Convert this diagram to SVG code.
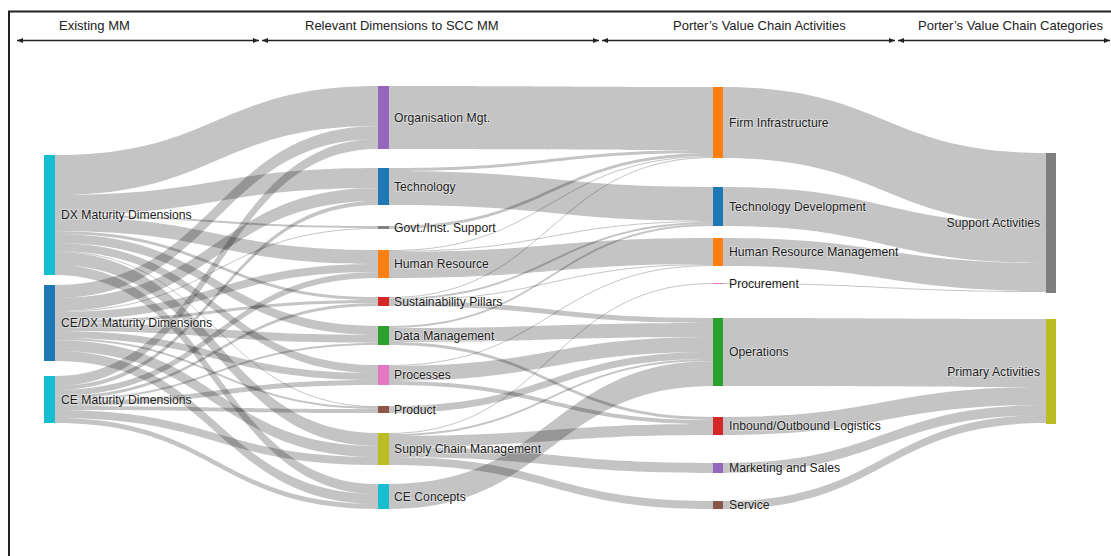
<svg xmlns="http://www.w3.org/2000/svg" width="1111" height="556" viewBox="0 0 1111 556">
<defs>
<style>
.lk{fill:#000;fill-opacity:0.23}
.lb{font-family:"Liberation Sans",Arial,sans-serif;font-size:12.2px;fill:#1a1a1a;stroke:#fff;stroke-width:1.5;stroke-opacity:0.5;paint-order:stroke}
.hd{font-family:"Liberation Sans",Arial,sans-serif;font-size:13px;fill:#222}
.ar{stroke:#222;stroke-width:1.5;fill:none;marker-start:url(#ah);marker-end:url(#ah)}
</style>
<marker id="ah" markerUnits="userSpaceOnUse" markerWidth="7" markerHeight="6" refX="6" refY="3" orient="auto-start-reverse">
<path d="M0,0.5 L6,3 L0,5.5 Z" fill="#222"/>
</marker>
</defs>
<rect width="1111" height="556" fill="#fff"/>
<path d="M9,556 V11.5 H1111" fill="none" stroke="#222" stroke-width="2"/>
<g id="headers">
<text class="hd" x="59" y="30">Existing MM</text>
<text class="hd" x="305" y="30">Relevant Dimensions to SCC MM</text>
<text class="hd" x="673" y="30">Porter’s Value Chain Activities</text>
<text class="hd" x="918" y="30">Porter’s Value Chain Categories</text>
<line class="ar" x1="17" y1="40.5" x2="259" y2="40.5"/>
<line class="ar" x1="262" y1="40.5" x2="599" y2="40.5"/>
<line class="ar" x1="602" y1="40.5" x2="895" y2="40.5"/>
<line class="ar" x1="898" y1="40.5" x2="1110" y2="40.5"/>
</g>
<g id="connectors">
<path class="lk" d="M55,155C216.5,155 216.5,86 378,86L378,126C216.5,126 216.5,195 55,195Z"/>
<path class="lk" d="M55,195C216.5,195 216.5,168 378,168L378,188C216.5,188 216.5,215 55,215Z"/>
<path class="lk" d="M55,215C216.5,215 216.5,226 378,226L378,228C216.5,228 216.5,217 55,217Z"/>
<path class="lk" d="M55,217C216.5,217 216.5,250 378,250L378,264C216.5,264 216.5,231 55,231Z"/>
<path class="lk" d="M55,231C216.5,231 216.5,297 378,297L378,300C216.5,300 216.5,234 55,234Z"/>
<path class="lk" d="M55,234C216.5,234 216.5,326 378,326L378,335C216.5,335 216.5,243 55,243Z"/>
<path class="lk" d="M55,243C216.5,243 216.5,365 378,365L378,373C216.5,373 216.5,251 55,251Z"/>
<path class="lk" d="M55,251C216.5,251 216.5,406 378,406L378,407C216.5,407 216.5,252 55,252Z"/>
<path class="lk" d="M55,252C216.5,252 216.5,433 378,433L378,446C216.5,446 216.5,265 55,265Z"/>
<path class="lk" d="M55,265C216.5,265 216.5,484 378,484L378,494C216.5,494 216.5,275 55,275Z"/>
<path class="lk" d="M55,285C216.5,285 216.5,126 378,126L378,139C216.5,139 216.5,298 55,298Z"/>
<path class="lk" d="M55,298C216.5,298 216.5,188 378,188L378,201C216.5,201 216.5,311 55,311Z"/>
<path class="lk" d="M55,311C216.5,311 216.5,228 378,228L378,229C216.5,229 216.5,312 55,312Z"/>
<path class="lk" d="M55,312C216.5,312 216.5,264 378,264L378,272C216.5,272 216.5,320 55,320Z"/>
<path class="lk" d="M55,320C216.5,320 216.5,300 378,300L378,303C216.5,303 216.5,323 55,323Z"/>
<path class="lk" d="M55,323C216.5,323 216.5,335 378,335L378,343C216.5,343 216.5,331 55,331Z"/>
<path class="lk" d="M55,331C216.5,331 216.5,373 378,373L378,380C216.5,380 216.5,338 55,338Z"/>
<path class="lk" d="M55,338C216.5,338 216.5,407 378,407L378,409C216.5,409 216.5,340 55,340Z"/>
<path class="lk" d="M55,340C216.5,340 216.5,446 378,446L378,457C216.5,457 216.5,351 55,351Z"/>
<path class="lk" d="M55,351C216.5,351 216.5,494 378,494L378,504C216.5,504 216.5,361 55,361Z"/>
<path class="lk" d="M55,376C216.5,376 216.5,139 378,139L378,149C216.5,149 216.5,386 55,386Z"/>
<path class="lk" d="M55,386C216.5,386 216.5,201 378,201L378,205C216.5,205 216.5,390 55,390Z"/>
<path class="lk" d="M55,390C216.5,390 216.5,272 378,272L378,278C216.5,278 216.5,396 55,396Z"/>
<path class="lk" d="M55,396C216.5,396 216.5,303 378,303L378,306C216.5,306 216.5,399 55,399Z"/>
<path class="lk" d="M55,399C216.5,399 216.5,343 378,343L378,345C216.5,345 216.5,401 55,401Z"/>
<path class="lk" d="M55,401C216.5,401 216.5,380 378,380L378,385C216.5,385 216.5,406 55,406Z"/>
<path class="lk" d="M55,406C216.5,406 216.5,409 378,409L378,413C216.5,413 216.5,410 55,410Z"/>
<path class="lk" d="M55,410C216.5,410 216.5,457 378,457L378,465C216.5,465 216.5,418 55,418Z"/>
<path class="lk" d="M55,418C216.5,418 216.5,504 378,504L378,509C216.5,509 216.5,423 55,423Z"/>
<path class="lk" d="M389,86C551,86 551,87 713,87L713,150C551,150 551,149 389,149Z"/>
<path class="lk" d="M389,168C551,168 551,150 713,150L713,153C551,153 551,171 389,171Z"/>
<path class="lk" d="M389,171C551,171 551,187 713,187L713,221C551,221 551,205 389,205Z"/>
<path class="lk" d="M389,226C551,226 551,153 713,153L713,156C551,156 551,229 389,229Z"/>
<path class="lk" d="M389,250C551,250 551,156 713,156L713,157C551,157 551,251 389,251Z"/>
<path class="lk" d="M389,251C551,251 551,221 713,221L713,222C551,222 551,252 389,252Z"/>
<path class="lk" d="M389,252C551,252 551,238 713,238L713,264C551,264 551,278 389,278Z"/>
<path class="lk" d="M389,297C551,297 551,157 713,157L713,158C551,158 551,298 389,298Z"/>
<path class="lk" d="M389,298C551,298 551,222 713,222L713,224C551,224 551,300 389,300Z"/>
<path class="lk" d="M389,300C551,300 551,264 713,264L713,265C551,265 551,301 389,301Z"/>
<path class="lk" d="M389,301C551,301 551,318 713,318L713,323C551,323 551,306 389,306Z"/>
<path class="lk" d="M389,326C551,326 551,224 713,224L713,226C551,226 551,328 389,328Z"/>
<path class="lk" d="M389,328C551,328 551,323 713,323L713,337C551,337 551,342 389,342Z"/>
<path class="lk" d="M389,342C551,342 551,417 713,417L713,420C551,420 551,345 389,345Z"/>
<path class="lk" d="M389,365C551,365 551,265 713,265L713,266C551,266 551,366 389,366Z"/>
<path class="lk" d="M389,366C551,366 551,337 713,337L713,352C551,352 551,381 389,381Z"/>
<path class="lk" d="M389,381C551,381 551,420 713,420L713,424C551,424 551,385 389,385Z"/>
<path class="lk" d="M389,406C551,406 551,352 713,352L713,359C551,359 551,413 389,413Z"/>
<path class="lk" d="M389,433C551,433 551,283 713,283L713,284C551,284 551,434 389,434Z"/>
<path class="lk" d="M389,434C551,434 551,359 713,359L713,361C551,361 551,436 389,436Z"/>
<path class="lk" d="M389,436C551,436 551,424 713,424L713,435C551,435 551,447 389,447Z"/>
<path class="lk" d="M389,447C551,447 551,463 713,463L713,473C551,473 551,457 389,457Z"/>
<path class="lk" d="M389,457C551,457 551,501 713,501L713,509C551,509 551,465 389,465Z"/>
<path class="lk" d="M389,484C551,484 551,361 713,361L713,386C551,386 551,509 389,509Z"/>
<path class="lk" d="M723,87C884.5,87 884.5,153 1046,153L1046,224C884.5,224 884.5,158 723,158Z"/>
<path class="lk" d="M723,187C884.5,187 884.5,224 1046,224L1046,263C884.5,263 884.5,226 723,226Z"/>
<path class="lk" d="M723,238C884.5,238 884.5,263 1046,263L1046,291C884.5,291 884.5,266 723,266Z"/>
<path class="lk" d="M723,283C884.5,283 884.5,291 1046,291L1046,292C884.5,292 884.5,284 723,284Z"/>
<path class="lk" d="M723,318C884.5,318 884.5,319 1046,319L1046,387C884.5,387 884.5,386 723,386Z"/>
<path class="lk" d="M723,417C884.5,417 884.5,387 1046,387L1046,405C884.5,405 884.5,435 723,435Z"/>
<path class="lk" d="M723,463C884.5,463 884.5,405 1046,405L1046,415C884.5,415 884.5,473 723,473Z"/>
<path class="lk" d="M723,501C884.5,501 884.5,415 1046,415L1046,423C884.5,423 884.5,509 723,509Z"/>
</g>
<g id="n-dx"><rect x="44" y="155" width="11" height="120" fill="#17becf"/><text class="lb" x="61" y="215" dy="0.35em">DX Maturity Dimensions</text></g>
<g id="n-cedx"><rect x="44" y="285" width="11" height="76" fill="#1f77b4"/><text class="lb" x="61" y="323" dy="0.35em">CE/DX Maturity Dimensions</text></g>
<g id="n-ce"><rect x="44" y="376" width="11" height="47" fill="#17becf"/><text class="lb" x="61" y="399.5" dy="0.35em">CE Maturity Dimensions</text></g>
<g id="n-org"><rect x="378" y="86" width="11" height="63" fill="#9467bd"/><text class="lb" x="394" y="117.5" dy="0.35em">Organisation Mgt.</text></g>
<g id="n-tech"><rect x="378" y="168" width="11" height="37" fill="#1f77b4"/><text class="lb" x="394" y="186.5" dy="0.35em">Technology</text></g>
<g id="n-govt"><rect x="378" y="226" width="11" height="3" fill="#7f7f7f"/><text class="lb" x="394" y="227.5" dy="0.35em">Govt./Inst. Support</text></g>
<g id="n-hr"><rect x="378" y="250" width="11" height="28" fill="#ff7f0e"/><text class="lb" x="394" y="264" dy="0.35em">Human Resource</text></g>
<g id="n-sust"><rect x="378" y="297" width="11" height="9" fill="#d62728"/><text class="lb" x="394" y="301.5" dy="0.35em">Sustainability Pillars</text></g>
<g id="n-data"><rect x="378" y="326" width="11" height="19" fill="#2ca02c"/><text class="lb" x="394" y="335.5" dy="0.35em">Data Management</text></g>
<g id="n-proc"><rect x="378" y="365" width="11" height="20" fill="#e377c2"/><text class="lb" x="394" y="375" dy="0.35em">Processes</text></g>
<g id="n-product"><rect x="378" y="406" width="11" height="7" fill="#8c564b"/><text class="lb" x="394" y="409.5" dy="0.35em">Product</text></g>
<g id="n-scm"><rect x="378" y="433" width="11" height="32" fill="#bcbd22"/><text class="lb" x="394" y="449" dy="0.35em">Supply Chain Management</text></g>
<g id="n-cec"><rect x="378" y="484" width="11" height="25" fill="#17becf"/><text class="lb" x="394" y="496.5" dy="0.35em">CE Concepts</text></g>
<g id="n-firm"><rect x="713" y="87" width="10" height="71" fill="#ff7f0e"/><text class="lb" x="729" y="122.5" dy="0.35em">Firm Infrastructure</text></g>
<g id="n-techdev"><rect x="713" y="187" width="10" height="39" fill="#1f77b4"/><text class="lb" x="729" y="206.5" dy="0.35em">Technology Development</text></g>
<g id="n-hrm"><rect x="713" y="238" width="10" height="28" fill="#ff7f0e"/><text class="lb" x="729" y="252" dy="0.35em">Human Resource Management</text></g>
<g id="n-procure"><rect x="713" y="283" width="10" height="1" fill="#e377c2"/><text class="lb" x="729" y="283.5" dy="0.35em">Procurement</text></g>
<g id="n-ops"><rect x="713" y="318" width="10" height="68" fill="#2ca02c"/><text class="lb" x="729" y="352" dy="0.35em">Operations</text></g>
<g id="n-inbound"><rect x="713" y="417" width="10" height="18" fill="#d62728"/><text class="lb" x="729" y="426" dy="0.35em">Inbound/Outbound Logistics</text></g>
<g id="n-mkt"><rect x="713" y="463" width="10" height="10" fill="#9467bd"/><text class="lb" x="729" y="468" dy="0.35em">Marketing and Sales</text></g>
<g id="n-service"><rect x="713" y="501" width="10" height="8" fill="#8c564b"/><text class="lb" x="729" y="505" dy="0.35em">Service</text></g>
<g id="n-support"><rect x="1046" y="153" width="10" height="140" fill="#7f7f7f"/><text class="lb" x="1040" y="223" dy="0.35em" text-anchor="end">Support Activities</text></g>
<g id="n-primary"><rect x="1046" y="319" width="10" height="105" fill="#bcbd22"/><text class="lb" x="1040" y="371.5" dy="0.35em" text-anchor="end">Primary Activities</text></g>
</svg>
